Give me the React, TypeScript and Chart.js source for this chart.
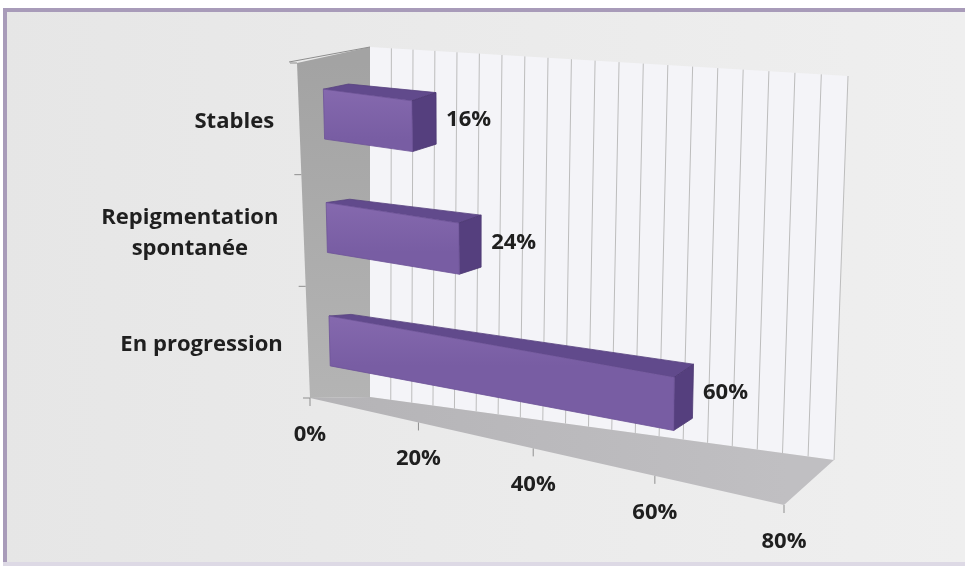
import React, { useEffect, useRef } from "react";
import { Chart, registerables } from "chart.js";

Chart.register(...registerables);

// ---- data ----
const categories: string[][] = [["Stables"], ["Repigmentation", "spontanée"], ["En progression"]];
const values = [16, 24, 60];
const axisMin = 0;
const axisMax = 80;
const majorStep = 20;
const gridStep = 4;

// ---- style ----
const FONT = 'bold 21px "Open Sans", "DejaVu Sans", sans-serif';
const STRETCH = 1.05;
const TEXT = "#1f1f1f";
const Z_FRONT = 0.35;
const Z_BACK = 0.7;

type Pt = [number, number];
const lerp = (a: Pt, b: Pt, k: number): Pt => [a[0] + (b[0] - a[0]) * k, a[1] + (b[1] - a[1]) * k];

function makeProjector(ca: any) {
  const L = ca.left, T = ca.top, R = ca.right, B = ca.bottom;
  const F = { tl: [L, T] as Pt, tr: [R + 3, T + 79] as Pt, bl: [L + 13, B - 4] as Pt, br: [R - 3, B + 103] as Pt };
  const K = { tl: [L + 73, T - 16] as Pt, tr: [L + 551, T + 13] as Pt, bl: [L + 73, B - 5] as Pt, br: [L + 537, B + 58] as Pt };
  const a = 0.89;
  const warp = (t: number) => (a * t) / (1 + (a - 1) * t);
  const plane = (Q: any, t: number, s: number): Pt => lerp(lerp(Q.tl, Q.tr, t), lerp(Q.bl, Q.br, t), s);
  return (px: number, py: number, z: number): Pt => {
    const t = warp((px - L) / (R - L));
    const s = (py - T) / (B - T);
    return lerp(plane(F, t, s), plane(K, t, s), z);
  };
}

function poly(ctx: CanvasRenderingContext2D, pts: Pt[], fill: any, stroke?: string) {
  ctx.beginPath();
  pts.forEach((p, i) => (i ? ctx.lineTo(p[0], p[1]) : ctx.moveTo(p[0], p[1])));
  ctx.closePath();
  ctx.fillStyle = fill;
  ctx.fill();
  if (stroke) {
    ctx.strokeStyle = stroke;
    ctx.lineWidth = 0.8;
    ctx.stroke();
  }
}

function text(ctx: CanvasRenderingContext2D, str: string, x: number, y: number, align: CanvasTextAlign) {
  ctx.save();
  ctx.translate(x, y);
  ctx.scale(STRETCH, 1);
  ctx.font = FONT;
  ctx.fillStyle = TEXT;
  ctx.textAlign = align;
  ctx.textBaseline = "middle";
  ctx.fillText(str, 0, 0);
  ctx.restore();
}

const scene3d = {
  id: "scene3d",
  beforeDraw(chart: any) {
    const { ctx, width: w, height: h, chartArea: ca } = chart;
    const xs = chart.scales.x;
    const P = makeProjector(ca);
    const L = ca.left, T = ca.top, R = ca.right, B = ca.bottom;
    ctx.save();
    // page background + frame
    ctx.fillStyle = "#ffffff";
    ctx.fillRect(0, 0, w, h);
    const bg = ctx.createLinearGradient(0, 0, w, 0);
    bg.addColorStop(0, "#e6e6e6");
    bg.addColorStop(1, "#efefef");
    ctx.fillStyle = bg;
    ctx.fillRect(4, 9, w - 4, h - 12);
    ctx.fillStyle = "#a89bb9";
    ctx.fillRect(3, 8, w - 3, 4);
    ctx.fillRect(3, 8, 4, h - 10);
    ctx.fillStyle = "#ddd9e5";
    ctx.fillRect(3, h - 4, w - 3, 4);

    // back wall
    poly(ctx, [P(L, T, 1), P(R, T, 1), P(R, B, 1), P(L, B, 1)], "#f4f4f8");
    ctx.strokeStyle = "#bdbdbd";
    ctx.lineWidth = 1;
    for (let v = axisMin + gridStep; v <= axisMax; v += gridStep) {
      const px = xs.getPixelForValue(v);
      const a = P(px, T, 1), b = P(px, B, 1);
      ctx.beginPath();
      ctx.moveTo(a[0], a[1]);
      ctx.lineTo(b[0], b[1]);
      ctx.stroke();
    }
    // left wall
    const lw = ctx.createLinearGradient(0, T, 0, B);
    lw.addColorStop(0, "#a3a3a3");
    lw.addColorStop(1, "#b4b4b4");
    poly(ctx, [P(L, T, 0), P(L, T, 1), P(L, B, 1), P(L, B, 0)], lw);
    ctx.strokeStyle = "#8e8e8e";
    ctx.lineWidth = 1;
    ctx.beginPath();
    const lt0 = P(L, T, 0), lt1 = P(L, T, 1);
    ctx.moveTo(lt0[0] - 8, lt0[1] - 1);
    ctx.lineTo(lt1[0], lt1[1]);
    ctx.stroke();
    // floor
    const fl = ctx.createLinearGradient(L, 0, R, 0);
    fl.addColorStop(0, "#b4b3b6");
    fl.addColorStop(1, "#c0bfc2");
    poly(ctx, [P(L, B, 0), P(L, B, 1), P(R, B, 1), P(R, B, 0)], fl);

    // tick marks
    ctx.strokeStyle = "#8f8f8f";
    ctx.lineWidth = 1;
    const ys = chart.scales.y;
    const band = ys.getPixelForValue(1) - ys.getPixelForValue(0);
    for (let i = 0; i <= categories.length; i++) {
      const py = ys.getPixelForValue(0) - band / 2 + i * band;
      const p = P(L, py, 0);
      ctx.beginPath();
      ctx.moveTo(p[0] - 7, p[1]);
      ctx.lineTo(p[0], p[1]);
      ctx.stroke();
    }
    for (let v = axisMin; v <= axisMax; v += majorStep) {
      const p = P(xs.getPixelForValue(v), B, 0);
      ctx.beginPath();
      ctx.moveTo(p[0], p[1]);
      ctx.lineTo(p[0], p[1] + 8);
      ctx.stroke();
    }
    ctx.restore();
  },
  beforeDatasetsDraw(chart: any) {
    const { ctx, chartArea: ca } = chart;
    const P = makeProjector(ca);
    const meta = chart.getDatasetMeta(0);
    ctx.save();
    meta.data.forEach((el: any) => {
      const { x, y, base, height } = el.getProps(["x", "y", "base", "height"], true);
      const yT = y - height / 2, yB = y + height / 2;
      const top = [P(base, yT, Z_FRONT), P(x, yT, Z_FRONT), P(x, yT, Z_BACK), P(base, yT, Z_BACK)];
      const right = [P(x, yT, Z_FRONT), P(x, yT, Z_BACK), P(x, yB, Z_BACK), P(x, yB, Z_FRONT)];
      const front = [P(base, yT, Z_FRONT), P(x, yT, Z_FRONT), P(x, yB, Z_FRONT), P(base, yB, Z_FRONT)];
      poly(ctx, top as Pt[], "#614a8c", "#57417f");
      poly(ctx, right as Pt[], "#553f7e", "#4c3872");
      const g = ctx.createLinearGradient(0, front[0][1], 0, front[3][1]);
      g.addColorStop(0, "#8569ae");
      g.addColorStop(1, "#785da3");
      poly(ctx, front as Pt[], g, "#6d5398");
    });
    ctx.restore();
    return false;
  },
  afterDraw(chart: any) {
    const { ctx, chartArea: ca } = chart;
    const P = makeProjector(ca);
    const xs = chart.scales.x, ys = chart.scales.y;
    const L = ca.left, B = ca.bottom;
    ctx.save();
    // value labels
    const meta = chart.getDatasetMeta(0);
    meta.data.forEach((el: any, i: number) => {
      const { x, y } = el.getProps(["x", "y"], true);
      const p = P(x, y, Z_BACK);
      text(ctx, `${values[i]}%`, p[0] + 10, p[1] + 2, "left");
    });
    // x axis labels
    for (let v = axisMin; v <= axisMax; v += majorStep) {
      const p = P(xs.getPixelForValue(v), B, 0);
      text(ctx, `${v}%`, p[0], p[1] + 37, "center");
    }
    // category labels
    ctx.font = FONT;
    const lineH = 31;
    categories.forEach((lines, i) => {
      const p = P(L, ys.getPixelForValue(i), 0);
      const widths = lines.map((s) => ctx.measureText(s).width * STRETCH);
      const bw = Math.max(...widths);
      const xr = p[0] - 25;
      const y0 = p[1] + 3 - ((lines.length - 1) * lineH) / 2;
      lines.forEach((s, j) => text(ctx, s, xr - bw / 2, y0 + j * lineH, "center"));
    });
    ctx.restore();
  },
};

export default function App() {
  const ref = useRef<HTMLCanvasElement>(null);
  useEffect(() => {
    const chart = new Chart(ref.current as HTMLCanvasElement, {
      type: "bar",
      data: {
        labels: categories,
        datasets: [{ data: values, backgroundColor: "#7f63a9", categoryPercentage: 1, barPercentage: 0.44 }],
      },
      options: {
        indexAxis: "y",
        responsive: false,
        animation: false,
        layout: { padding: { left: 297, top: 63, right: 965 - 787, bottom: 566 - 402 } },
        scales: {
          x: { display: false, min: axisMin, max: axisMax },
          y: { display: false },
        },
        plugins: { legend: { display: false }, tooltip: { enabled: false } },
      },
      plugins: [scene3d],
    } as any);
    return () => chart.destroy();
  }, []);
  return (
    <div style={{ position: "fixed", left: 0, top: 0, width: 965, height: 566 }}>
      <canvas ref={ref} width={965} height={566} />
    </div>
  );
}
